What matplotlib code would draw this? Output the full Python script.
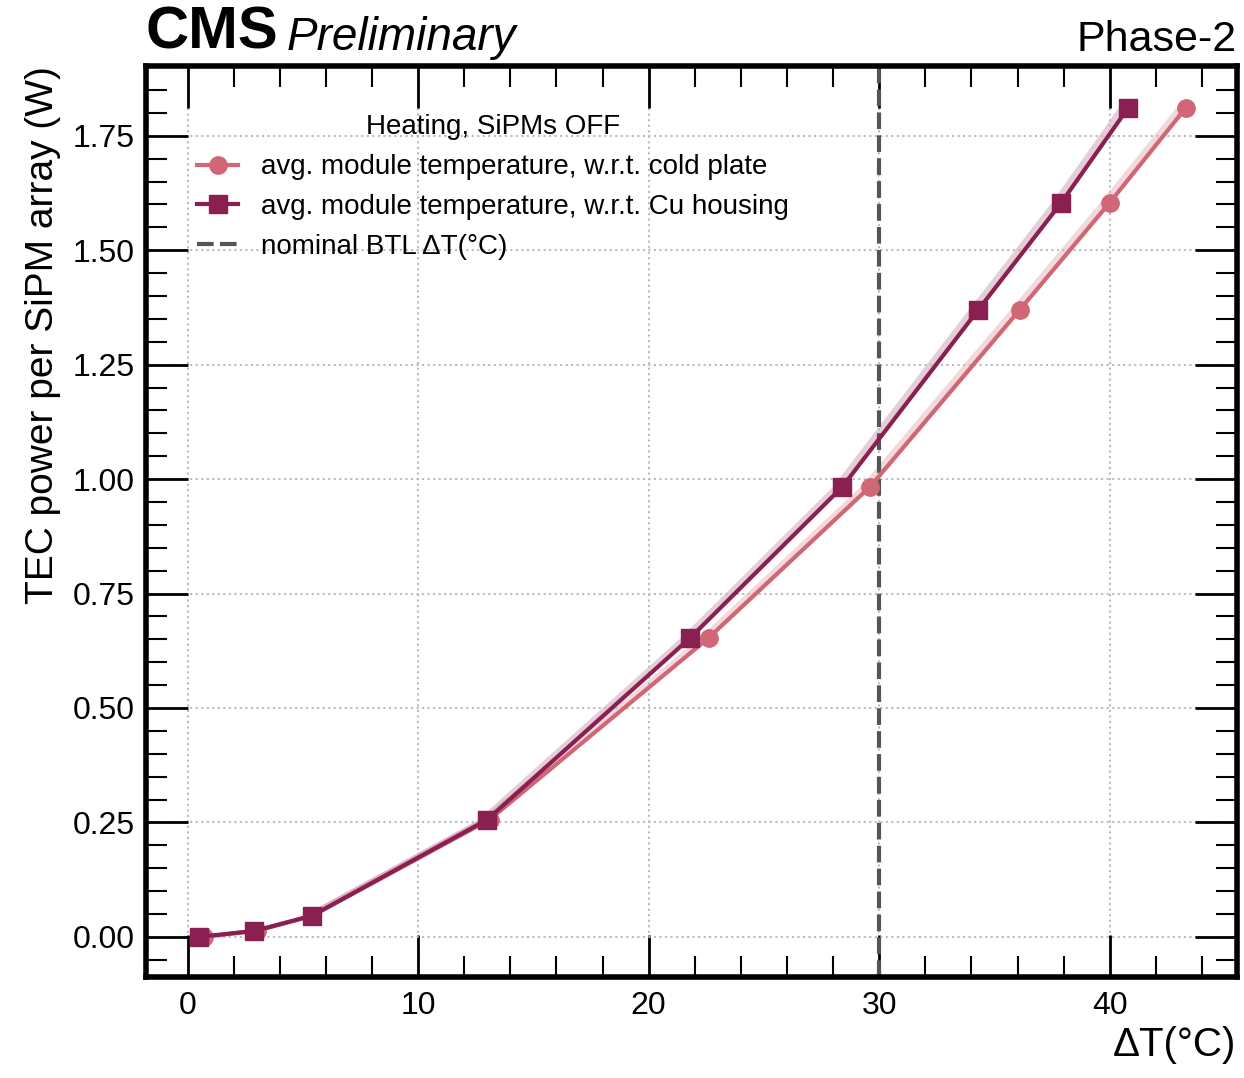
import matplotlib

matplotlib.use("Agg")
import matplotlib.pyplot as plt
from matplotlib.ticker import MultipleLocator

# --- Data ---
POWER = [0.0, 0.013, 0.046, 0.256, 0.653, 0.983, 1.370, 1.604, 1.811]
DT_COLD_PLATE = [0.7, 3.0, 5.4, 13.1, 22.6, 29.6, 36.1, 40.0, 43.3]
DT_CU_HOUSING = [0.5, 2.9, 5.4, 13.0, 21.8, 28.4, 34.3, 37.9, 40.8]
NOMINAL_DT = 30.0

LABEL_COLD = "avg. module temperature, w.r.t. cold plate"
LABEL_CU = "avg. module temperature, w.r.t. Cu housing"
LABEL_NOMINAL = "nominal BTL ΔT(°C)"

# --- Styling ---
COLD_COLOR = "#d06676"
CU_COLOR = "#8a2051"
NOMINAL_COLOR = "#555555"
BAND = 0.45

plt.rcParams["font.family"] = ["Liberation Sans", "DejaVu Sans"]


def main():
    figure, axis = plt.subplots(figsize=(12.44, 10.78), dpi=100)
    figure.subplots_adjust(left=0.117, right=0.994, top=0.939, bottom=0.094)

    axis.fill_betweenx(POWER, [x - BAND for x in DT_COLD_PLATE], DT_COLD_PLATE,
                       color=COLD_COLOR, alpha=0.25, lw=0)
    axis.fill_betweenx(POWER, [x - BAND for x in DT_CU_HOUSING], DT_CU_HOUSING,
                       color=CU_COLOR, alpha=0.22, lw=0)

    axis.plot(DT_COLD_PLATE, POWER, "-o", color=COLD_COLOR, lw=3, ms=12.5,
              label=LABEL_COLD, zorder=3)
    axis.plot(DT_CU_HOUSING, POWER, "-s", color=CU_COLOR, lw=3, ms=12.5,
              label=LABEL_CU, zorder=4)
    axis.axvline(NOMINAL_DT, color=NOMINAL_COLOR, lw=3, ls=(0, (4, 1.5)),
                 label=LABEL_NOMINAL, zorder=2)

    axis.set_xlim(-1.82, 45.5)
    axis.set_ylim(-0.087, 1.903)

    axis.xaxis.set_major_locator(MultipleLocator(10))
    axis.xaxis.set_minor_locator(MultipleLocator(2))
    axis.yaxis.set_major_locator(MultipleLocator(0.25))
    axis.yaxis.set_minor_locator(MultipleLocator(0.05))
    axis.yaxis.set_major_formatter(lambda v, p: f"{v:.2f}")

    axis.tick_params(which="both", direction="in", top=True, right=True,
                     labelsize=23, pad=8)
    axis.tick_params(axis="x", pad=10)
    axis.tick_params(which="major", length=30, width=2)
    axis.tick_params(which="minor", length=15, width=1.5)
    for spine in axis.spines.values():
        spine.set_linewidth(4)

    axis.grid(True, which="major", ls=":", color="#bbbbbb", lw=1.5)

    axis.set_xlabel("ΔT(°C)", fontsize=29, loc="right")
    axis.set_ylabel("TEC power per SiPM array (W)", fontsize=28, loc="top",
                    labelpad=8)

    legend = axis.legend(loc="upper left", bbox_to_anchor=(0.024, 0.974),
                         title="Heating, SiPMs OFF", fontsize=20,
                         title_fontsize=20, frameon=False, handlelength=1.5,
                         labelspacing=0.5, handletextpad=0.8)
    legend._legend_box.align = "center"

    axis.text(0.0, 1.006, "CMS", transform=axis.transAxes, fontsize=43,
              fontweight="bold", ha="left", va="bottom")
    axis.text(0.129, 1.006, "Preliminary", transform=axis.transAxes,
              fontsize=33, style="italic", ha="left", va="bottom")
    axis.text(1.0, 1.006, "Phase-2", transform=axis.transAxes, fontsize=31,
              ha="right", va="bottom")

    figure.savefig("out.png", dpi=100)
    plt.close(figure)


if __name__ == "__main__":
    main()
